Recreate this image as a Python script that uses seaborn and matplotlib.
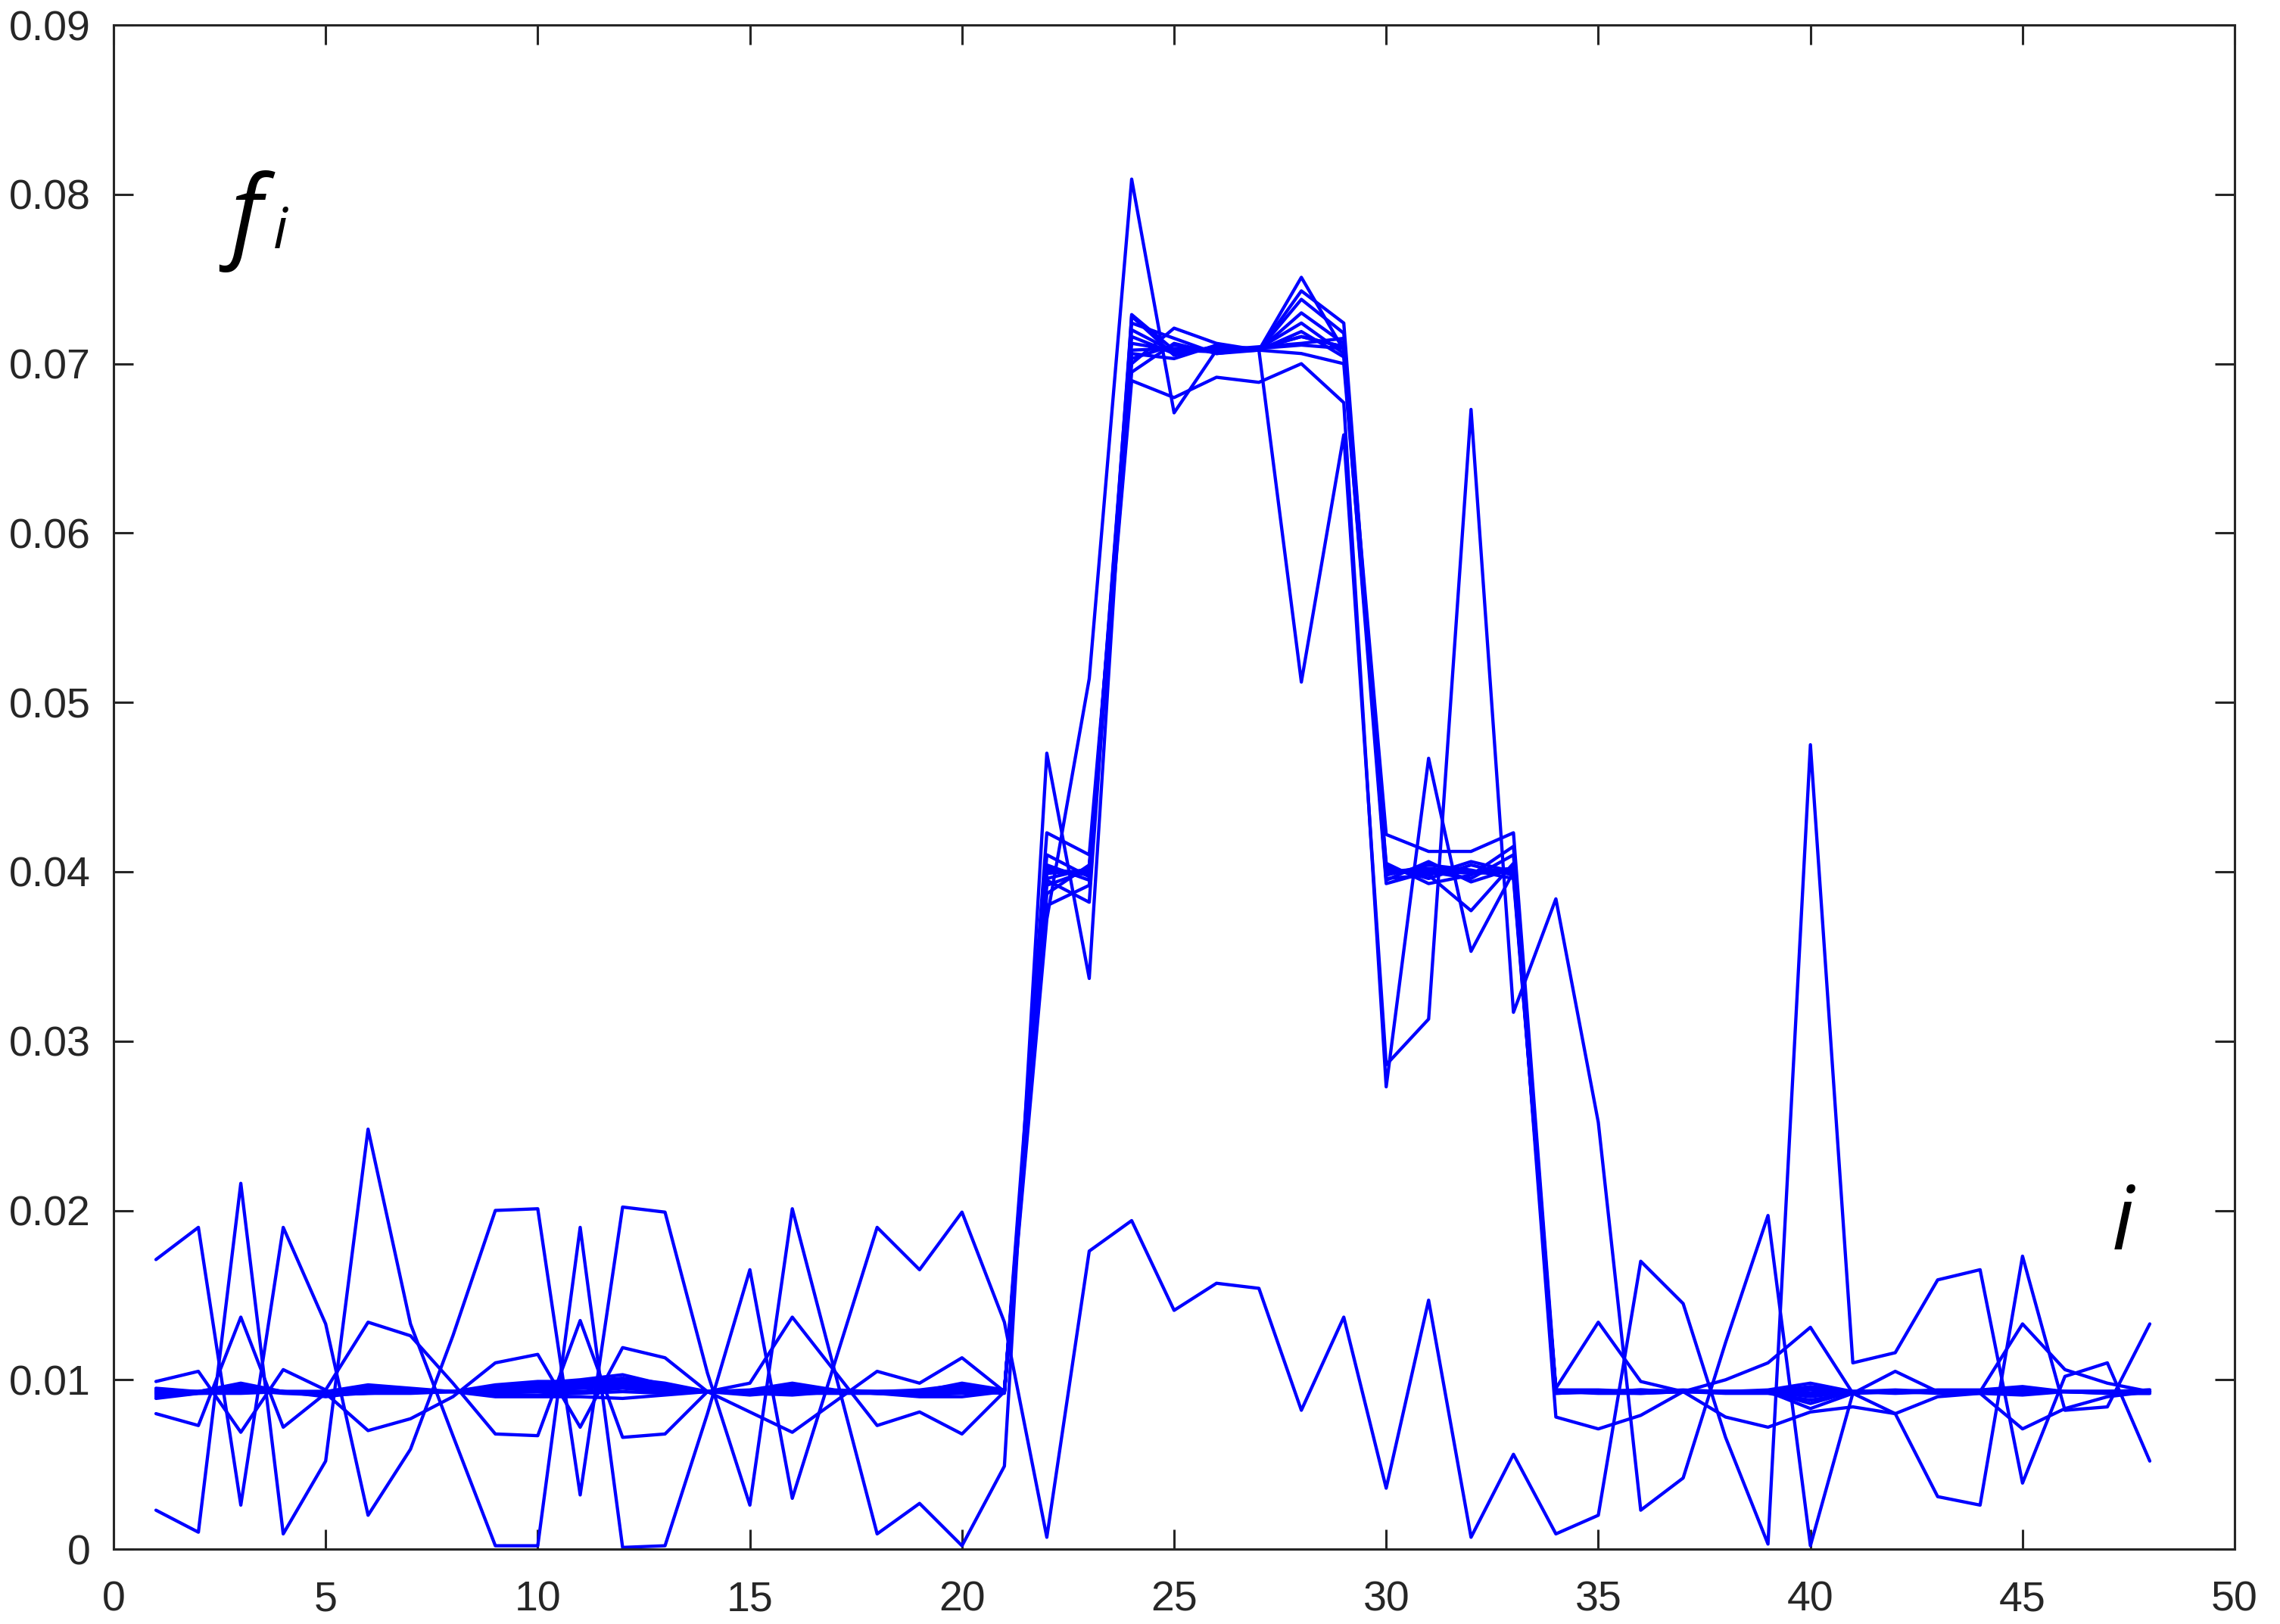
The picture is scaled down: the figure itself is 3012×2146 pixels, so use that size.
import numpy as np
import pandas as pd
import seaborn as sns
import matplotlib
matplotlib.use("Agg")
import matplotlib.pyplot as plt

# index i = 1..48, one list per curve
idx = list(range(1, 49))

big_a = [0.0171, 0.0190, 0.0026, 0.0190, 0.0133, 0.0020, 0.0059, 0.0126, 0.0200, 0.0201,
         0.0032, 0.0202, 0.0199, 0.0104, 0.0026, 0.0201, 0.0105, 0.0009, 0.0027, 0.0002,
         0.0049, 0.0470, 0.0337, 0.0729, 0.0708, 0.0707, 0.0709, 0.0711, 0.0709, 0.0401,
         0.0399, 0.0400, 0.0402, 0.0093, 0.0093, 0.0093, 0.0094, 0.0093, 0.0093, 0.0095,
         0.0093, 0.0093, 0.0093, 0.0093, 0.0094, 0.0093, 0.0093, 0.0093]
big_b = [0.0023, 0.0010, 0.0216, 0.0009, 0.0052, 0.0248, 0.0133, 0.0067, 0.0002, 0.0002,
         0.0190, 0.0001, 0.0002, 0.0080, 0.0165, 0.0030, 0.0110, 0.0190, 0.0165, 0.0199,
         0.0134, 0.0007, 0.0176, 0.0194, 0.0141, 0.0157, 0.0154, 0.0082, 0.0137, 0.0036,
         0.0147, 0.0007, 0.0056, 0.0009, 0.0020, 0.0170, 0.0145, 0.0066, 0.0003, 0.0475,
         0.0110, 0.0116, 0.0159, 0.0165, 0.0039, 0.0102, 0.0110, 0.0052]
mid_a = [0.0099, 0.0105, 0.0069, 0.0106, 0.0094, 0.0134, 0.0126, 0.0098, 0.0068, 0.0067,
         0.0135, 0.0066, 0.0068, 0.0093, 0.0098, 0.0137, 0.0105, 0.0073, 0.0081, 0.0068,
         0.0093, 0.0423, 0.0410, 0.0700, 0.0721, 0.0712, 0.0708, 0.0751, 0.0708, 0.0422,
         0.0412, 0.0412, 0.0423, 0.0095, 0.0134, 0.0099, 0.0093, 0.0100, 0.0110, 0.0131,
         0.0092, 0.0105, 0.0093, 0.0093, 0.0133, 0.0106, 0.0098, 0.0093]
mid_b = [0.0080, 0.0073, 0.0137, 0.0072, 0.0092, 0.0070, 0.0077, 0.0090, 0.0110, 0.0115,
         0.0072, 0.0119, 0.0113, 0.0093, 0.0081, 0.0069, 0.0087, 0.0105, 0.0098, 0.0113,
         0.0093, 0.0395, 0.0382, 0.0728, 0.0705, 0.0710, 0.0708, 0.0743, 0.0724, 0.0396,
         0.0398, 0.0377, 0.0405, 0.0078, 0.0071, 0.0079, 0.0093, 0.0078, 0.0072, 0.0081,
         0.0084, 0.0080, 0.0090, 0.0092, 0.0071, 0.0083, 0.0090, 0.0093]
dip = [0.0092, 0.0093, 0.0094, 0.0093, 0.0093, 0.0094, 0.0093, 0.0093, 0.0094, 0.0094,
       0.0095, 0.0096, 0.0094, 0.0093, 0.0093, 0.0094, 0.0093, 0.0093, 0.0093, 0.0094,
       0.0093, 0.0401, 0.0399, 0.0708, 0.0709, 0.0708, 0.0708, 0.0512, 0.0658, 0.0286,
       0.0313, 0.0673, 0.0317, 0.0384, 0.0252, 0.0023, 0.0042, 0.0122, 0.0197, 0.0002,
       0.0092, 0.0080, 0.0031, 0.0026, 0.0173, 0.0082, 0.0084, 0.0133]
spike = [0.0093, 0.0093, 0.0096, 0.0093, 0.0093, 0.0096, 0.0094, 0.0093, 0.0095, 0.0097,
         0.0098, 0.0100, 0.0096, 0.0093, 0.0093, 0.0096, 0.0093, 0.0093, 0.0093, 0.0096,
         0.0093, 0.0372, 0.0514, 0.0809, 0.0671, 0.0708, 0.0709, 0.0716, 0.0710, 0.0399,
         0.0401, 0.0399, 0.0400, 0.0093, 0.0093, 0.0093, 0.0093, 0.0093, 0.0093, 0.0092,
         0.0093, 0.0093, 0.0093, 0.0093, 0.0093, 0.0093, 0.0093, 0.0093]
k1 = [0.0093, 0.0093, 0.0095, 0.0093, 0.0092, 0.0094, 0.0093, 0.0093, 0.0095, 0.0096,
      0.0097, 0.0099, 0.0096, 0.0093, 0.0092, 0.0095, 0.0093, 0.0093, 0.0093, 0.0095,
      0.0093, 0.0399, 0.0401, 0.0712, 0.0708, 0.0709, 0.0708, 0.0730, 0.0712, 0.0400,
      0.0402, 0.0400, 0.0401, 0.0094, 0.0093, 0.0093, 0.0093, 0.0093, 0.0093, 0.0096,
      0.0093, 0.0093, 0.0093, 0.0093, 0.0095, 0.0093, 0.0093, 0.0094]
k2 = [0.0091, 0.0093, 0.0098, 0.0093, 0.0093, 0.0097, 0.0095, 0.0093, 0.0097, 0.0099,
      0.0099, 0.0101, 0.0098, 0.0093, 0.0094, 0.0098, 0.0094, 0.0093, 0.0094, 0.0097,
      0.0093, 0.0404, 0.0395, 0.0716, 0.0706, 0.0710, 0.0709, 0.0724, 0.0706, 0.0403,
      0.0396, 0.0404, 0.0398, 0.0092, 0.0093, 0.0094, 0.0093, 0.0093, 0.0094, 0.0098,
      0.0093, 0.0093, 0.0094, 0.0094, 0.0096, 0.0093, 0.0093, 0.0093]
k3 = [0.0095, 0.0093, 0.0094, 0.0092, 0.0091, 0.0092, 0.0092, 0.0093, 0.0091, 0.0091,
      0.0092, 0.0093, 0.0092, 0.0093, 0.0092, 0.0092, 0.0092, 0.0092, 0.0092, 0.0093,
      0.0092, 0.0387, 0.0404, 0.0703, 0.0711, 0.0707, 0.0708, 0.0719, 0.0704, 0.0393,
      0.0400, 0.0396, 0.0410, 0.0093, 0.0092, 0.0092, 0.0093, 0.0092, 0.0092, 0.0088,
      0.0092, 0.0093, 0.0092, 0.0092, 0.0091, 0.0093, 0.0092, 0.0092]
k4 = [0.0089, 0.0092, 0.0093, 0.0093, 0.0090, 0.0093, 0.0093, 0.0093, 0.0093, 0.0094,
      0.0095, 0.0097, 0.0094, 0.0093, 0.0091, 0.0093, 0.0093, 0.0092, 0.0091, 0.0092,
      0.0093, 0.0402, 0.0398, 0.0720, 0.0707, 0.0708, 0.0710, 0.0712, 0.0715, 0.0398,
      0.0404, 0.0401, 0.0396, 0.0094, 0.0094, 0.0093, 0.0093, 0.0093, 0.0093, 0.0091,
      0.0093, 0.0094, 0.0093, 0.0093, 0.0094, 0.0093, 0.0093, 0.0094]
k5 = [0.0093, 0.0093, 0.0097, 0.0093, 0.0092, 0.0096, 0.0094, 0.0093, 0.0096, 0.0098,
      0.0100, 0.0103, 0.0097, 0.0093, 0.0093, 0.0097, 0.0093, 0.0093, 0.0093, 0.0098,
      0.0094, 0.0392, 0.0401, 0.0695, 0.0712, 0.0706, 0.0708, 0.0706, 0.0700, 0.0405,
      0.0393, 0.0398, 0.0415, 0.0093, 0.0093, 0.0094, 0.0093, 0.0093, 0.0093, 0.0083,
      0.0092, 0.0093, 0.0093, 0.0093, 0.0093, 0.0093, 0.0093, 0.0093]
k6 = [0.0090, 0.0092, 0.0092, 0.0093, 0.0091, 0.0092, 0.0093, 0.0093, 0.0090, 0.0090,
      0.0090, 0.0089, 0.0091, 0.0093, 0.0092, 0.0091, 0.0093, 0.0092, 0.0090, 0.0090,
      0.0093, 0.0380, 0.0392, 0.0706, 0.0703, 0.0711, 0.0708, 0.0738, 0.0718, 0.0395,
      0.0406, 0.0394, 0.0402, 0.0092, 0.0093, 0.0093, 0.0093, 0.0093, 0.0093, 0.0086,
      0.0093, 0.0092, 0.0093, 0.0093, 0.0092, 0.0093, 0.0092, 0.0092]
k7 = [0.0094, 0.0093, 0.0096, 0.0093, 0.0093, 0.0095, 0.0093, 0.0093, 0.0094, 0.0095,
      0.0096, 0.0098, 0.0095, 0.0093, 0.0093, 0.0094, 0.0093, 0.0093, 0.0093, 0.0096,
      0.0093, 0.0410, 0.0397, 0.0724, 0.0715, 0.0706, 0.0709, 0.0716, 0.0710, 0.0401,
      0.0398, 0.0406, 0.0400, 0.0093, 0.0093, 0.0093, 0.0093, 0.0093, 0.0093, 0.0094,
      0.0093, 0.0093, 0.0093, 0.0093, 0.0093, 0.0093, 0.0093, 0.0093]
k8 = [0.0092, 0.0093, 0.0093, 0.0093, 0.0092, 0.0093, 0.0093, 0.0093, 0.0092, 0.0093,
      0.0093, 0.0095, 0.0093, 0.0093, 0.0092, 0.0093, 0.0093, 0.0092, 0.0092, 0.0094,
      0.0093, 0.0396, 0.0402, 0.0690, 0.0680, 0.0692, 0.0689, 0.0700, 0.0677, 0.0273,
      0.0467, 0.0353, 0.0400, 0.0093, 0.0093, 0.0092, 0.0093, 0.0093, 0.0093, 0.0090,
      0.0093, 0.0093, 0.0093, 0.0093, 0.0093, 0.0093, 0.0093, 0.0093]

x_ticks = [0, 5, 10, 15, 20, 25, 30, 35, 40, 45, 50]
y_ticks = [0, 0.01, 0.02, 0.03, 0.04, 0.05, 0.06, 0.07, 0.08, 0.09]
y_labels = ["0", "0.01", "0.02", "0.03", "0.04", "0.05", "0.06", "0.07", "0.08", "0.09"]

curves = {"big_a": big_a, "big_b": big_b, "mid_a": mid_a, "mid_b": mid_b, "dip": dip,
          "spike": spike, "k1": k1, "k2": k2, "k3": k3, "k4": k4, "k5": k5, "k6": k6,
          "k7": k7, "k8": k8}
df = pd.concat([pd.DataFrame({"i": idx, "f": vals, "run": name}) for name, vals in curves.items()],
               ignore_index=True)

sns.set_style("ticks")
plt.rcParams["font.family"] = ["Liberation Sans", "DejaVu Sans"]

fig = plt.figure(figsize=(15.06, 10.73), dpi=200)
ax = fig.add_axes([0.0498, 0.0461, 0.9303, 0.9385])

sns.lineplot(data=df, x="i", y="f", units="run", estimator=None, color="#0000ff",
             lw=1.55, sort=False, ax=ax)

ax.set_xlim(0, 50)
ax.set_ylim(0, 0.09)
ax.set_xticks(x_ticks)
ax.set_yticks(y_ticks)
ax.set_yticklabels(y_labels)
ax.set_xlabel("")
ax.set_ylabel("")
for s in ax.spines.values():
    s.set_visible(True)
    s.set_color("#262626")
    s.set_linewidth(1.1)
ax.tick_params(direction="in", length=9.5, width=1.1, color="#262626", labelcolor="#262626",
               labelsize=20, top=True, right=True)
ax.tick_params(axis="y", pad=11)
ax.tick_params(axis="x", pad=15)

ax.text(2.75, 0.0768, "f", fontsize=48, style="italic", family="Open Sans", color="black")
ax.text(3.76, 0.0768, "i", fontsize=27, style="italic", family="Open Sans", color="black")
ax.text(47.1, 0.0177, "i", fontsize=42, style="italic", family="Open Sans", color="black")

fig.savefig("out.png", dpi=200)
